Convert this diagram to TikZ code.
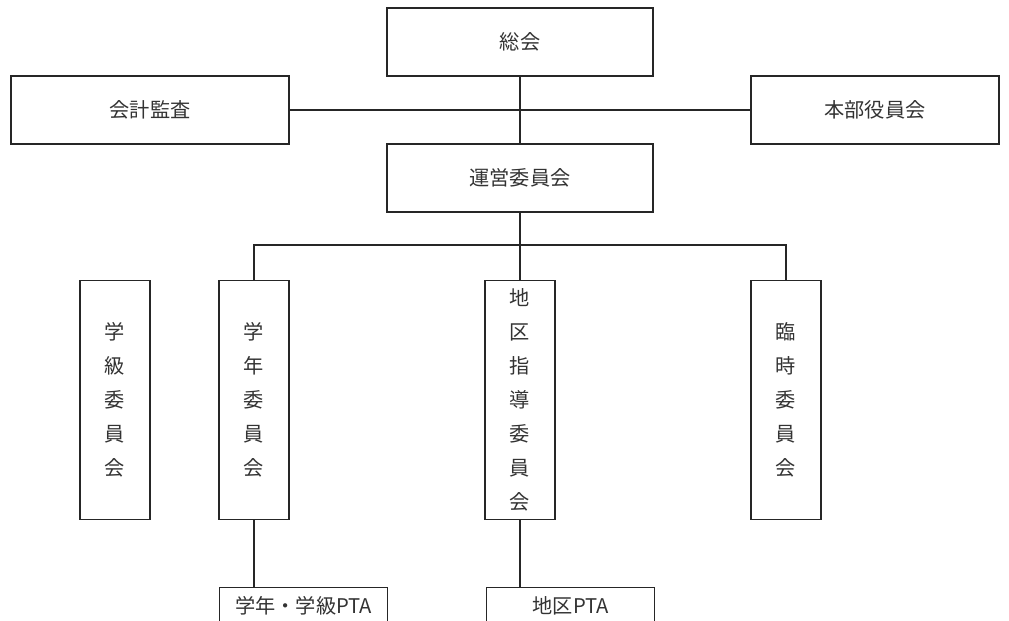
\documentclass[tikz,border=0pt]{standalone}
\usepackage{fontspec}
\newfontfamily\cjk{Noto Sans CJK JP}
\usepackage{tikz}

\tikzset{
  box/.style={draw=black!85, line width=.8pt, text=black!80, inner sep=0pt,
    font=\cjk\fontsize{11.5}{19.4}\selectfont},
  wide/.style={box, minimum width=5.32cm, minimum height=1.36cm},
  tall/.style={box, minimum width=1.4cm, minimum height=4.78cm, align=center},
  pta/.style={box, minimum width=3.36cm, minimum height=.72cm, anchor=north west},
  link/.style={draw=black!85, line width=.8pt}
}

\begin{document}
\begin{tikzpicture}[x=0.02cm,y=-0.02cm]
\useasboundingbox (0,0) rectangle (1009,621);
\clip (0,0) rectangle (1009,621);
\node (soukai) [wide] at (520,42) {総会};
\node (kaikei) [wide, minimum width=5.56cm] at (150,110) {会計監査};
\node (honbu) [wide, minimum width=4.96cm] at (875,110) {本部役員会};
\node (unei) [wide] at (520,178) {運営委員会};
\node (gakkyu) [tall] at (115,400) {学\\級\\委\\員\\会};
\node (gakunen) [tall] at (254,400) {学\\年\\委\\員\\会};
\node (chiku) [tall] at (520,400) {地\\区\\指\\導\\委\\員\\会};
\node (rinji) [tall] at (786,400) {臨\\時\\委\\員\\会};
\node (gakunenpta) [pta] at (219,587) {学年・学級PTA};
\node (chikupta) [pta] at (486,587) {地区PTA};
\coordinate (jct) at (520,245);
\draw[link] (soukai.south) -- (unei.north);
\draw[link] (kaikei.east) -- (honbu.west);
\draw[link] (unei.south) -- (jct) -- (chiku.north);
\draw[link] (gakunen.north) -- (gakunen.north |- jct)
    -- (rinji.north |- jct) -- (rinji.north);
\draw[link] (gakunen.south) -- (gakunen.south |- gakunenpta.north);
\draw[link] (chiku.south) -- (chiku.south |- chikupta.north);
\end{tikzpicture}
\end{document}
